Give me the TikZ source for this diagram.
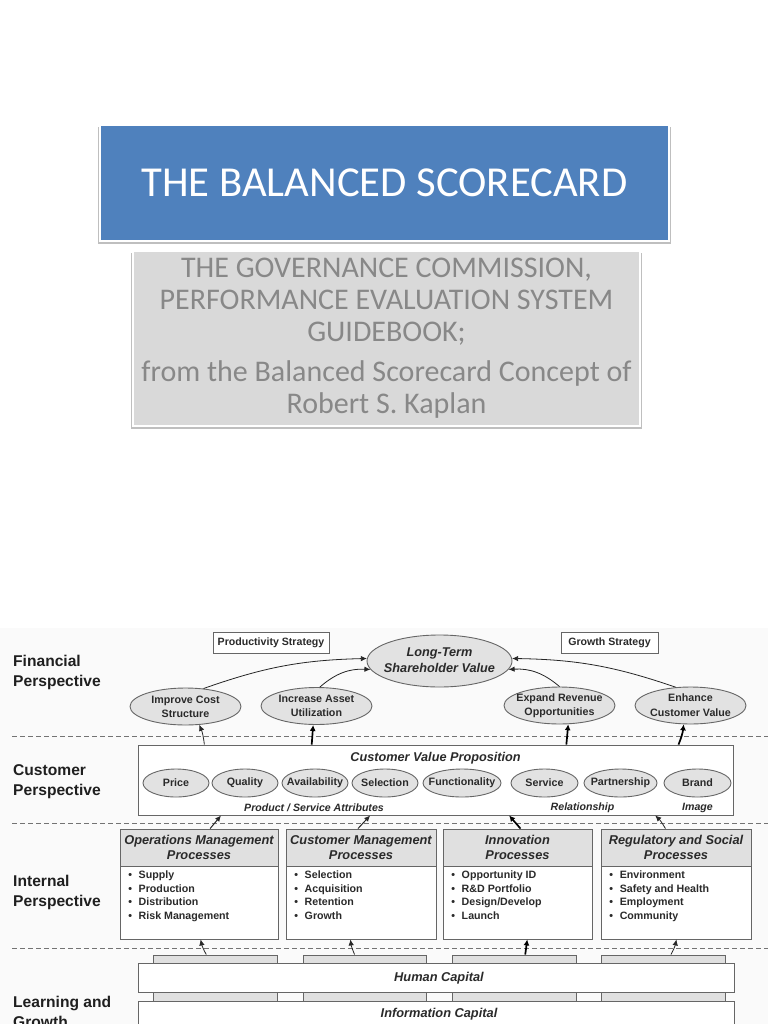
\documentclass[tikz,border=0pt]{standalone}
\usepackage{fontspec}
\setmainfont{Liberation Sans}
\newfontfamily\calibrifont{Carlito}
\usetikzlibrary{shapes.geometric,arrows.meta,shadows,calc}
\definecolor{inkc}{HTML}{2A2A2A}
\definecolor{linec}{HTML}{666666}
\definecolor{ellc}{HTML}{E2E2E2}
\definecolor{headc}{HTML}{E0E0E0}
\definecolor{subc}{HTML}{D9D9D9}
\definecolor{subtxt}{HTML}{888888}
\definecolor{bluec}{HTML}{4F81BD}
\newcommand{\zw}[1]{\makebox[0pt]{#1}}
\newcommand{\bl}{\makebox[10.5pt][l]{\textbullet}}
\tikzset{
  x=1pt,y=-1pt,
  sz/.style 2 args={minimum width=#1pt,minimum height=#2pt,inner sep=0pt},
  titlebox/.style={rectangle,fill=bluec,draw=white,line width=2.4pt,text=white,align=center,
    drop shadow={shadow xshift=0pt,shadow yshift=-2.6pt,shadow scale=1.008,opacity=.25,fill=black}},
  subbox/.style={rectangle,fill=subc,draw=white,line width=2.4pt,text=subtxt,align=center,
    drop shadow={shadow xshift=0pt,shadow yshift=-2.6pt,shadow scale=1.008,opacity=.25,fill=black}},
  bigell/.style={ellipse,draw=linec,fill=ellc,line width=.9pt,text=inkc,align=center,inner sep=0pt},
  smell/.style={bigell,font=\fontsize{10.7}{12}\selectfont\bfseries},
  midell/.style={bigell,font=\fontsize{10.7}{14}\selectfont\bfseries,minimum width=111pt,minimum height=37pt},
  plainbox/.style={rectangle,draw=linec,line width=.9pt,fill=white,text=inkc,align=center},
  headbox/.style={plainbox,fill=headc,font=\fontsize{12.8}{15.8}\selectfont\bfseries\itshape},
  tabbox/.style={rectangle,draw=linec,line width=.9pt,fill=headc},
  strat/.style={plainbox,font=\fontsize{10.6}{12}\selectfont\bfseries},
  capbox/.style={plainbox,font=\fontsize{12.8}{13}\selectfont\bfseries\itshape},
  persp/.style={anchor=west,align=left,text=black!88,font=\fontsize{15.6}{20}\selectfont\bfseries,inner sep=0pt},
  listtxt/.style={anchor=north west,align=left,text=inkc,inner sep=0pt,font=\fontsize{10.65}{13.6}\selectfont\bfseries},
  attr/.style={text=inkc,inner sep=0pt,font=\fontsize{10.6}{11}\selectfont\bfseries\itshape},
  dashline/.style={draw=black!55,line width=.8pt,dash pattern=on 5pt off 3pt},
  thin arrow/.style={draw=black!85,line width=.8pt,-{Latex[length=6pt,width=5.5pt]}},
  thick arrow/.style={draw=black,line width=1.7pt,-{Latex[length=6pt,width=6pt]}},
}
\begin{document}
\begin{tikzpicture}
\useasboundingbox (0,0) rectangle (768,1024);
\clip (0,0) rectangle (768,1024);
\fill[white] (0,0) rectangle (768,1024);
\fill[black!2] (0,628) rectangle (768,1024);

% slide header
\node[titlebox,sz={569}{116},font=\calibrifont\fontsize{42.7}{48}\selectfont] (title) at (384.5,183) {THE BALANCED SCORECARD};
\node[subbox,sz={507}{175},font=\calibrifont\fontsize{30}{32}\selectfont] (sub) at (386.5,338.5)
  {THE GOVERNANCE COMMISSION,\\PERFORMANCE EVALUATION SYSTEM\\GUIDEBOOK;\\[8pt]from the Balanced Scorecard Concept of\\Robert S. Kaplan};

% dashed separators
\coordinate (d1a) at (12,736); \coordinate (d1b) at (768,736);
\coordinate (d2a) at (12,823); \coordinate (d2b) at (768,823);
\coordinate (d3a) at (12,948); \coordinate (d3b) at (768,948);
\draw[dashline] (d1a) -- (d1b);
\draw[dashline] (d2a) -- (d2b);
\draw[dashline] (d3a) -- (d3b);

% perspective labels
\node[persp] (pf) at (13,672) {Financial\\Perspective};
\node[persp] (pc) at (13,782) {Customer\\Perspective};
\node[persp] (pi) at (13,892) {Internal\\Perspective};
\node[persp] (pl) at (13,1012) {Learning and\\Growth};

% financial
\node[strat,sz={116}{21}] (prod) at (271,642.5) {\raisebox{-1.5pt}{Productivity Strategy}};
\node[strat,sz={97}{21}] (grow) at (609.5,642.5) {\raisebox{-1.5pt}{Growth Strategy}};
\node[bigell,minimum width=145pt,minimum height=52pt,font=\fontsize{12.7}{16}\selectfont\bfseries\itshape] (lt) at (439.5,661) {\zw{\raisebox{1.5pt}{Long-Term}}\\\zw{\raisebox{1.5pt}{Shareholder Value}}};
\node[midell] (imp) at (185.5,706.5) {\zw{Improve Cost}\\\zw{Structure}};
\node[midell] (inc) at (316.5,706) {\zw{Increase Asset}\\\zw{Utilization}};
\node[midell] (exp) at (559.5,705.5) {\zw{\raisebox{-1.5pt}{Expand Revenue}}\\\zw{\raisebox{-1.5pt}{Opportunities}}};
\node[midell] (enh) at (690.5,705.5) {\zw{\raisebox{1.5pt}{Enhance}}\\\zw{\raisebox{.5pt}{Customer Value}}};

% customer
\node[plainbox,sz={595.5}{70}] (cv) at (435.75,780) {};
\node[attr,font=\fontsize{12.7}{13}\selectfont\bfseries\itshape] (cvt) at (435.5,758) {Customer Value Proposition};
\node[smell,minimum width=66pt,minimum height=28pt] (e1) at (176,783) {\zw{Price}};
\node[smell,minimum width=66pt,minimum height=28pt] (e2) at (245,783) {\zw{Quality}};
\node[smell,minimum width=66pt,minimum height=28pt] (e3) at (315,783) {\zw{Availability}};
\node[smell,minimum width=66pt,minimum height=28pt] (e4) at (385,783) {\zw{Selection}};
\node[smell,minimum width=78pt,minimum height=28pt] (e5) at (462,783) {\zw{Functionality}};
\node[smell,minimum width=67pt,minimum height=28pt] (e6) at (544.5,783) {\zw{Service}};
\node[smell,minimum width=73pt,minimum height=28pt] (e7) at (620.5,783) {\zw{Partnership}};
\node[smell,minimum width=67pt,minimum height=28pt] (e8) at (697.5,783) {\zw{Brand}};
\node[attr] (a1) at (314,807.5) {Product / Service Attributes};
\node[attr] (a2) at (582.5,807.5) {Relationship};
\node[attr] (a3) at (697.5,807.5) {Image};

% internal processes
\node[plainbox,sz={158}{73}] (b1) at (199,902.5) {};
\node[headbox,sz={158}{37}] (h1) at (199,847.5) {Operations Management\\Processes};
\node[listtxt] (l1) at ($(b1.north west)+(8.5,5)$) {\bl Supply\\\bl Production\\\bl Distribution\\\bl Risk Management};
\node[plainbox,sz={150}{73}] (b2) at (361,902.5) {};
\node[headbox,sz={150}{37}] (h2) at (361,847.5) {Customer Management\\Processes};
\node[listtxt] (l2) at ($(b2.north west)+(8.5,5)$) {\bl Selection\\\bl Acquisition\\\bl Retention\\\bl Growth};
\node[plainbox,sz={149}{73}] (b3) at (517.5,902.5) {};
\node[headbox,sz={149}{37}] (h3) at (517.5,847.5) {Innovation\\Processes};
\node[listtxt] (l3) at ($(b3.north west)+(8.5,5)$) {\bl Opportunity ID\\\bl R\&D Portfolio\\\bl Design/Develop\\\bl Launch};
\node[plainbox,sz={150}{73}] (b4) at (676,902.5) {};
\node[headbox,sz={150}{37}] (h4) at (676,847.5) {Regulatory and Social\\Processes};
\node[listtxt] (l4) at ($(b4.north west)+(8.5,5)$) {\bl Environment\\\bl Safety and Health\\\bl Employment\\\bl Community};

% learning and growth
\node[tabbox,sz={124}{60}] (t1) at (215,985) {};
\node[tabbox,sz={123}{60}] (t2) at (364.5,985) {};
\node[tabbox,sz={124}{60}] (t3) at (514,985) {};
\node[tabbox,sz={124}{60}] (t4) at (663.5,985) {};
\node[capbox,sz={596}{29}] (hc) at (436,978) {\hspace{6pt}\raisebox{-1pt}{Human Capital}};
\node[capbox,sz={596}{26}] (ic) at (436,1014.5) {\hspace{6pt}\raisebox{-1.5pt}{Information Capital}};

% connectors
\draw[thin arrow] (imp.45) to[bend left=9] (lt.178);
\draw[thin arrow] (inc.80) to[bend left=22] (lt.187);
\draw[thin arrow] (exp.90) to[bend right=22] (lt.-7);
\draw[thin arrow] (enh.129) to[bend right=9] (lt.2);

\draw[thin arrow] ($(cv.north west)!0.112!(cv.north east)$) to[bend right=8] (imp.-53);
\draw[thick arrow] ($(cv.north west)!0.292!(cv.north east)$) -- (inc.-100);
\draw[thick arrow] ($(cv.north west)!0.719!(cv.north east)$) -- (exp.-65);
\draw[thick arrow] ($(cv.north west)!0.907!(cv.north east)$) to[bend right=8] (enh.-110);

\draw[thin arrow,line width=1pt] ($(h1.north west)!0.57!(h1.north east)$) -- ($(cv.south west)!0.14!(cv.south east)$);
\draw[thin arrow,line width=1pt] ($(h2.north west)!0.48!(h2.north east)$) -- ($(cv.south west)!0.39!(cv.south east)$);
\draw[thick arrow] ($(h3.north west)!0.52!(h3.north east)$) -- ($(cv.south west)!0.623!(cv.south east)$);
\draw[thin arrow] ($(h4.north west)!0.43!(h4.north east)$) to[bend right=8] ($(cv.south west)!0.868!(cv.south east)$);

\draw[thin arrow] ($(t1.north west)!0.43!(t1.north east)$) to[bend left=8] ($(b1.south west)!0.51!(b1.south east)$);
\draw[thin arrow] ($(t2.north west)!0.42!(t2.north east)$) to[bend left=8] ($(b2.south west)!0.43!(b2.south east)$);
\draw[thick arrow] ($(t3.north west)!0.59!(t3.north east)$) -- ($(b3.south west)!0.565!(b3.south east)$);
\draw[thin arrow] ($(t4.north west)!0.56!(t4.north east)$) to[bend right=8] ($(b4.south west)!0.503!(b4.south east)$);
\end{tikzpicture}
\end{document}
